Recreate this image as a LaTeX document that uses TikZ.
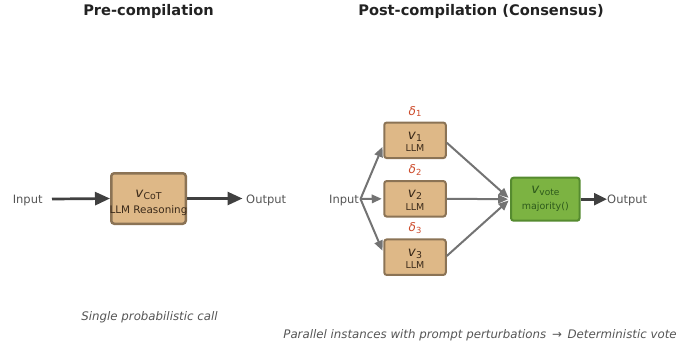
\documentclass[tikz,border=0pt]{standalone}
\usepackage{fontspec}
\setmainfont{DejaVu Sans}
\usetikzlibrary{arrows.meta,calc}

\definecolor{boxfill}{HTML}{DEB887}
\definecolor{boxedge}{HTML}{8B7355}
\definecolor{boxtext}{HTML}{3B2A1A}
\definecolor{votefill}{HTML}{7CB342}
\definecolor{voteedge}{HTML}{558B2F}
\definecolor{votetext}{HTML}{2E5A1C}
\definecolor{deltacol}{HTML}{CC4A2A}
\definecolor{labelgray}{HTML}{555555}
\definecolor{darkarrow}{HTML}{404040}
\definecolor{grayarrow}{HTML}{737373}
\definecolor{titlecol}{HTML}{222222}

\newcommand\fs[1]{\fontsize{#1}{#1}\selectfont}
% italic symbol with an upright subscript: symbol, subscript, drop, subscript size
\newcommand\symsub[4]{\textit{#1}\raisebox{-#3}{\fs{#4}#2}}

\begin{document}
\begin{tikzpicture}[x=1pt,y=-1pt,
  titletext/.style={font=\fs{14.6}\bfseries, text=titlecol, anchor=base, inner sep=0pt},
  lbl/.style={font=\fs{11.5}, text=labelgray, anchor=base, inner sep=0pt},
  caption/.style={font=\fs{11.8}\itshape, text=labelgray, anchor=base, inner sep=0pt},
  bigbox/.style={draw=boxedge, fill=boxfill, line width=2.5pt, rounded corners=3pt,
    minimum width=74.5pt, minimum height=50.5pt, inner sep=0pt},
  smallbox/.style={draw=boxedge, fill=boxfill, line width=2pt, rounded corners=2.5pt,
    minimum width=61.5pt, minimum height=35.5pt, inner sep=0pt},
  votebox/.style={draw=voteedge, fill=votefill, line width=2pt, rounded corners=2.5pt,
    minimum width=68.5pt, minimum height=43pt, inner sep=0pt},
  symtext/.style={font=\fs{13.5}, anchor=base, inner sep=0pt},
  smalltext/.style={font=\fs{9.5}, anchor=base, inner sep=0pt},
  deltatext/.style={font=\fs{12}, text=deltacol, anchor=base, inner sep=0pt},
  darr/.style={draw=darkarrow, line width=2.7pt, -{Triangle[length=15pt,width=13pt]}},
  darrs/.style={draw=darkarrow, line width=2.7pt, -{Triangle[length=13pt,width=12pt]}},
  garr/.style={draw=grayarrow, line width=2pt, -{Triangle[length=10pt,width=8.5pt]}}]

\useasboundingbox (0,0) rectangle (699,349);

% ---- titles ----
\node[titletext] (titleA) at (148.5,15) {Pre-compilation};
\node[titletext] (titleB) at (481,15) {Post-compilation (Consensus)};

% ---- single call ----
\node[lbl] (inA) at (27.7,203) {Input};
\node[bigbox] (cot) at (148.5,198.5) {};
\node[symtext, text=boxtext] (cotsym) at ($(cot.center)+(0,-0.8)$) {\symsub{v}{CoT}{2pt}{9.4}};
\node[font=\fs{10.4}, text=boxtext, anchor=base, inner sep=0pt] (cotname)
  at ($(cot.center)+(0,14.8)$) {LLM Reasoning};
\node[lbl, anchor=base west] (outA) at (246,203) {Output};
\coordinate (inAend) at (52,199);
\draw[darr] (inAend) -- (cot.west);
\draw[darr, shorten >=3.5pt] (cot.east) -- (outA.west |- cot.east);

\node[caption] (capA) at (149.5,320) {Single probabilistic call};

% ---- consensus ----
\node[lbl] (inB) at (344,203) {Input};
\coordinate (fan) at (360.5,199);

\foreach \i/\yy in {1/140.3, 2/198.8, 3/257.2}{
  \node[smallbox] (v\i) at (415,\yy) {};
  \node[symtext, text=boxtext] (v\i sym) at ($(v\i.center)+(0,-1)$) {\symsub{v}{\i}{1.8pt}{9.4}};
  \node[smalltext, text=boxtext] (v\i llm) at ($(v\i.center)+(0,11.6)$) {LLM};
  \node[deltatext] (d\i) at ($(v\i.center)+(0,-25.3)$) {\symsub{δ}{\i}{1.8pt}{8.4}};
}

\node[votebox] (vote) at (545.3,199.2) {};
\node[symtext, text=votetext] (votesym) at ($(vote.center)+(0,-6)$) {\symsub{v}{vote}{2pt}{9}};
\node[smalltext, text=votetext] (votefn) at ($(vote.center)+(0,9.8)$) {majority()};
\node[lbl, anchor=base west] (outB) at (607,203) {Output};

\draw[garr, shorten >=2pt] (fan) -- ($(v1.west)+(0,4.7)$);
\draw[garr, shorten >=1.5pt] (fan) -- (v2.west);
\draw[garr, shorten >=2pt] (fan) -- ($(v3.west)+(0,-4.7)$);

\foreach \i/\dy in {1/2.4, 2/0, 3/-1.2}{
  \draw[garr, shorten >=2pt] ($(v\i.east)+(0,\dy)$) -- (vote.west);
}
\draw[darrs] (vote.east) -- (outB.west |- vote.east);

\node[caption] (capB) at (480,338.3) {Parallel instances with prompt perturbations \,→\, Deterministic vote};
\end{tikzpicture}
\end{document}
